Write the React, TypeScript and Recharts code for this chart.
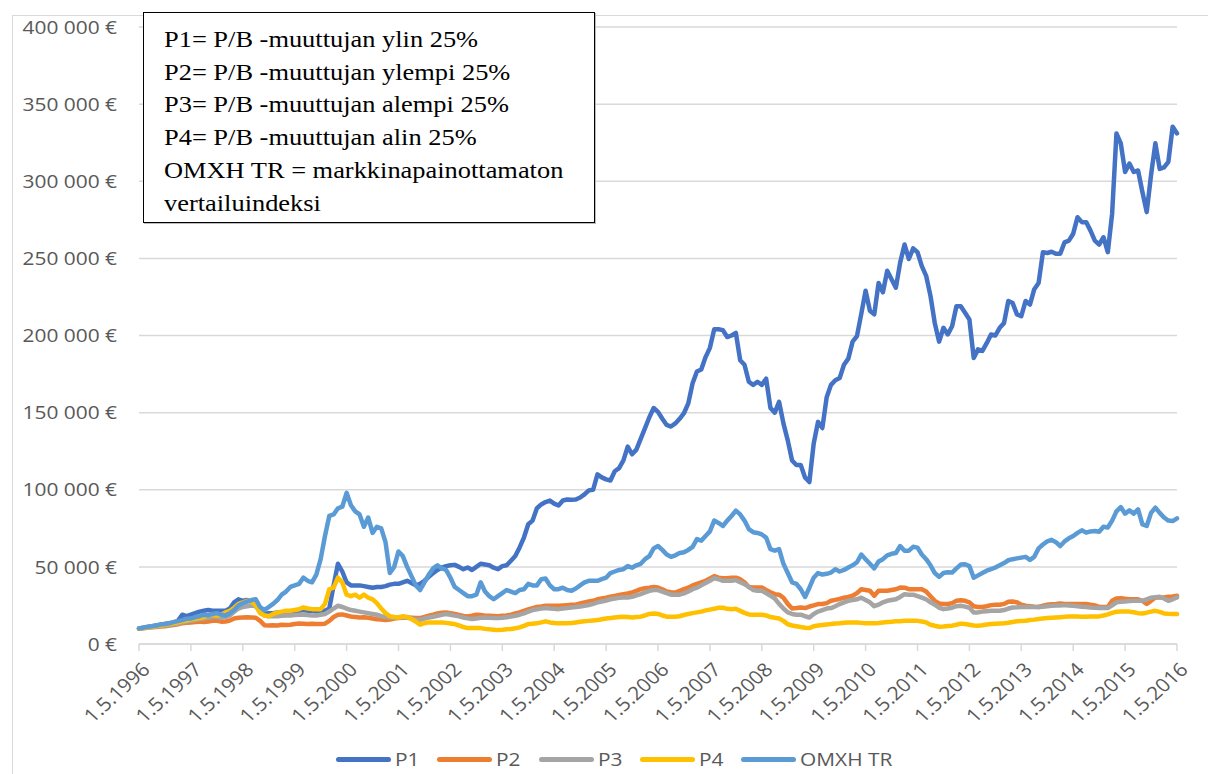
import React from 'react';
import { LineChart, Line, XAxis, YAxis, CartesianGrid } from 'recharts';

// monthly values, thousands of euros, from 1.5.1996 to 1.5.2016
const startYear = 1996;
const startMonth = 5;

const p1 = [
  10, 10.5, 11, 11.5, 12, 12.5, 13, 13.5, 14, 15, 19, 18,
  19, 20, 21, 21.5, 22, 21.5, 21.5, 21.5, 21.5, 23, 27, 29,
  28, 28.5, 27.5, 25, 20.5, 19.5, 20, 20, 20.5, 20.5, 21, 21,
  21, 21.5, 22, 21.5, 21.5, 21, 21.5, 21.5, 23, 38, 52, 47,
  40, 38, 38, 38, 37.5, 37, 36.5, 37, 37, 37.5, 38.5, 39,
  39, 40, 41, 39.5, 38, 39, 41, 43.5, 46, 48, 49.5, 50.5,
  51, 51.3, 50, 48.5, 49.6, 48, 50, 52, 51.5, 51, 49.5, 48.5,
  50.5, 51, 54, 57, 62.6, 69, 77.6, 80, 88, 90.5, 92, 93,
  91, 89.8, 93, 93.7, 93.5, 93.7, 95, 97, 99.6, 100, 110, 108,
  106.7, 106, 112, 114, 119, 128, 123, 126, 133, 140, 147, 153,
  150.5, 146, 142, 141, 143, 146, 149.6, 156, 169, 176.7, 178, 186,
  192, 204, 204, 203.5, 199, 200, 201.7, 184, 181, 170, 168, 170,
  168, 172, 153, 150, 157, 143, 132, 119, 116, 116, 108, 105,
  130, 144, 140, 160, 168, 171, 172.4, 181, 185, 196, 199.6, 214,
  229, 216, 213.7, 234, 228, 242, 236.5, 231, 247.4, 259, 249.6, 256.5,
  254, 245, 238.7, 225.7, 208, 196, 205, 200.7, 206, 219, 219, 214.8,
  210.4, 185.4, 191, 190, 195, 200.7, 200, 205, 208, 222.4, 221, 213.7,
  212.6, 222.4, 220, 230, 234, 254, 253.5, 254.3, 253, 253, 260.4, 261.5,
  266, 276.7, 273.5, 273.5, 268, 261.5, 259, 263.7, 254, 279, 331, 324.6,
  306, 311.5, 306, 307, 293, 280, 304, 324.6, 308, 309, 312.6, 335.4,
  331,
];

const p2 = [
  10, 10.2, 10.5, 10.8, 11, 11.3, 11.5, 12, 12.3, 12.8, 13.5, 13.8,
  14, 14.3, 14.5, 14.2, 14.5, 15, 15, 14.5, 14.6, 15.2, 16.5, 17,
  17.2, 17.3, 17.2, 17, 15, 12.2, 12, 12.2, 12, 12.5, 12.3, 12.5,
  13, 13.3, 13.2, 13, 13.2, 13, 13, 13.2, 15, 17.5, 19, 19.2,
  18.5, 17.8, 17.5, 17.2, 17.3, 17, 16.5, 16, 15.8, 15.5, 15.8, 16.5,
  16.8, 17, 17.2, 17, 16.8, 16.8, 17.5, 18.3, 19, 19.8, 20.3, 20.5,
  20, 19.4, 18.8, 18.2, 17.9, 18.3, 19, 18.8, 18.3, 18.3, 18.2, 18,
  18.3, 18.5, 19, 19.8, 20.5, 21.5, 22.5, 23.3, 24, 24.3, 24.8, 24.8,
  24.8, 24.8, 25, 25.2, 25.4, 25.5, 26.3, 27, 27.6, 28, 29, 29.5,
  30, 30.6, 31.2, 31.8, 32.3, 32.8, 33.4, 34.5, 35.5, 36.2, 36.5, 37,
  36.6, 35.5, 34, 33.5, 33.4, 34.5, 35.5, 36.5, 38, 39, 40, 41,
  42.5, 44, 43, 42.7, 42.7, 43, 43, 42, 40, 37, 36.6, 36.6,
  36.6, 35, 33.5, 32.3, 32, 30, 26, 23, 23.3, 23.7, 23.3, 24.3,
  25, 25.9, 25.9, 26.5, 28, 28.6, 29.2, 30, 30.5, 31.3, 33, 35.5,
  35, 34.5, 31.3, 34.5, 34.5, 34.5, 35, 35.5, 36.6, 36.5, 35.5, 35.5,
  35.5, 35.5, 34, 31, 28, 26.3, 26, 25.9, 26.5, 28, 28.4, 28,
  27, 24.5, 24, 24, 24.5, 25.2, 25.4, 25.4, 26, 27.4, 27.6, 27,
  25.5, 24.8, 24.5, 24.2, 24, 24.8, 25.4, 25.8, 26, 26.3, 26, 25.9,
  25.9, 25.9, 25.9, 25.9, 25.5, 25, 24, 24, 24, 28, 29.5, 29.7,
  29.3, 29, 29, 29, 28, 26, 28, 30.2, 30.2, 30.2, 30.6, 30.8,
  31.3,
];

const p3 = [
  10, 10.3, 10.7, 11, 11.3, 11.6, 12, 12.3, 12.8, 13.3, 14, 14.5,
  15, 15.5, 16, 16.5, 17, 17.5, 17.5, 17, 17.5, 18.5, 21, 23,
  24, 24.5, 25, 24.5, 21, 18.5, 18, 18.2, 18, 18.3, 18.5, 18.5,
  18.8, 19, 19, 18.8, 18.5, 18.5, 19, 19.5, 21, 23, 24.8, 24,
  23, 22, 21.5, 21, 20.5, 20, 19.5, 19, 18, 17.5, 17.2, 17,
  17.2, 17.2, 17.2, 16.5, 16, 15.7, 16.5, 17.2, 17.7, 18.3, 19, 19.4,
  19, 18.4, 17.9, 17.2, 16.6, 16.2, 16.5, 17, 17.2, 17, 16.9, 16.8,
  17, 17.4, 17.8, 18.3, 19, 19.8, 21, 22, 22.5, 23, 23.3, 23,
  22.8, 22.6, 23, 23.3, 23.7, 24, 24.3, 24.8, 25.3, 26, 27, 27.6,
  28.2, 29, 29.5, 30, 30.2, 30.2, 30.6, 31.5, 32.3, 33.4, 34.5, 35,
  35, 34, 33, 32, 32, 32, 32.8, 34, 35.5, 36.5, 38, 39.5,
  41, 42.7, 42, 41, 41, 41, 41.4, 40, 38.8, 37, 35, 34.5,
  34.5, 33, 31.3, 29.5, 26, 23, 20.5, 19.5, 19, 19, 18, 17.2,
  19.5, 21, 22, 23, 23.3, 24.5, 25.9, 27, 28, 28.5, 29, 30,
  28.5, 27, 24.5, 25.5, 27, 28, 28.5, 29, 30.5, 32.3, 32, 32,
  31, 30, 29, 27, 25.5, 23.5, 22.6, 23, 23.5, 24.5, 24.8, 24.2,
  23.5, 20.5, 20.5, 21, 21.3, 21.5, 21.5, 21.5, 22, 23, 23.7, 23.8,
  24, 24, 24, 24, 24, 24.2, 24.5, 24.8, 25, 25, 25.2, 25,
  24.8, 24.5, 24.2, 24, 23.7, 23.5, 23.4, 23.3, 23.3, 25, 27, 27.4,
  27.6, 27.8, 28, 28, 28, 29, 30, 30.3, 30.6, 29.5, 28, 29,
  30.2,
];

const p4 = [
  10, 10.4, 10.8, 11.2, 11.6, 12, 12.5, 13, 13.5, 14, 14.8, 15.3,
  15.8, 16.3, 16.8, 17.5, 18.5, 19, 18.5, 19, 20.5, 21.5, 23.5, 26,
  27, 28, 27.5, 25, 20, 18.5, 18, 19.5, 20.5, 21, 21.5, 21.5,
  22, 22.5, 23.7, 23, 22.6, 22.5, 22.6, 26, 35.5, 36.6, 43, 40,
  32, 31, 32, 30, 32, 30, 29, 26.5, 23, 20, 18, 17.5,
  17.2, 18, 17.5, 16.2, 14.5, 12.5, 13.5, 14, 14, 14, 14, 13.7,
  13.3, 12.9, 12, 11, 10.3, 10.3, 10.3, 10.3, 9.8, 9.5, 9.3, 9,
  9.2, 9.5, 9.7, 10.2, 10.8, 11.8, 12.9, 13.2, 13.4, 14, 14.7, 14,
  13.6, 13.4, 13.4, 13.4, 13.6, 14, 14.4, 14.7, 15, 15.3, 15.5, 16,
  16.5, 16.8, 17.2, 17.5, 17.7, 17.5, 17.2, 17.5, 17.7, 18.5, 19.5, 19.8,
  19.5, 18.5, 17.7, 17.7, 17.7, 18, 18.8, 19.5, 20, 20.5, 21, 21.8,
  22.3, 22.8, 23.5, 23.5, 22.8, 22.6, 22.8, 21.5, 20.2, 19.2, 19, 19,
  19, 18.5, 17.5, 17, 16.5, 15, 12.8, 12, 11.5, 11, 10.6, 10.3,
  11.5, 12, 12.3, 12.6, 12.9, 13.3, 13.5, 13.8, 14, 14, 14, 13.7,
  13.4, 13.4, 13.4, 13.6, 13.9, 14.2, 14.4, 14.7, 14.8, 15, 15, 15,
  15, 14.6, 14, 12.5, 11.8, 11.2, 11.3, 11.6, 11.9, 12.5, 13.2, 13,
  12.5, 12, 11.9, 12.2, 12.6, 12.9, 13.1, 13.3, 13.5, 13.8, 14.3, 14.7,
  14.9, 15.1, 15.5, 15.8, 16.2, 16.6, 16.8, 17, 17.2, 17.4, 17.6, 17.9,
  17.9, 17.8, 17.7, 17.7, 17.8, 17.9, 17.9, 18.5, 19.2, 20.2, 20.9, 21,
  21, 21, 20.6, 20, 19.8, 20.3, 21, 21.5, 20.8, 19.8, 19.6, 19.5,
  19.4,
];

const omxh = [
  10, 10.6, 11.2, 11.5, 12, 12.6, 13, 13.4, 14.2, 14.8, 15.5, 16.4,
  16.5, 17.5, 18, 19, 18.5, 19.5, 20, 19, 18.5, 20, 22, 25,
  26.5, 27.5, 28.5, 29, 24, 22, 24, 26, 28.5, 32, 34, 37,
  38, 39, 43, 41, 40, 45, 55, 70, 83, 84, 88, 89,
  98, 90, 86, 84, 76, 82, 72, 76, 75, 66, 46, 50,
  60, 57, 50, 44, 38, 35, 40, 45, 49, 51, 49, 48,
  43, 37, 35, 33, 31, 31, 32, 40, 34, 31, 29, 31,
  33, 35, 34, 33, 35, 35.5, 39, 38, 38, 42, 42.5, 38,
  35.5, 35.5, 36.5, 35, 34.5, 36, 38, 40, 41, 41, 41, 42,
  43, 46, 47, 48, 48.5, 50.5, 49.5, 51, 52, 55, 57, 62,
  63.5, 61, 58, 56.5, 57.5, 59, 59.5, 61, 63, 68, 67, 70,
  73, 80, 78.5, 76.5, 80, 83, 86.5, 84, 80, 74.5, 72.5, 72,
  71, 69, 61.5, 60.5, 61.5, 52, 46, 40, 39, 35.5, 30.5, 36.5,
  43, 46, 45, 45.5, 46.3, 48.5, 47, 48, 49.6, 51, 53, 58,
  55, 52, 49, 53.5, 55, 57.5, 58.5, 59, 63.5, 60.5, 60.5, 63,
  62.5, 58, 55, 51, 46, 43.5, 46, 46.5, 46.3, 49, 51.5, 51.7,
  50.5, 43, 44.5, 46, 47.5, 48.5, 49.6, 51, 52.5, 54.3, 55, 55.5,
  56, 56.5, 54.5, 56.5, 62, 64.5, 66.5, 67.5, 66, 63.5, 66.5, 68.5,
  70, 72, 73.7, 72.2, 73, 73.3, 72.8, 76, 75.5, 80, 86, 88.8,
  84.5, 86.6, 84.5, 87.3, 77.5, 76.5, 85, 88.4, 85, 82, 80, 79.7,
  81.5,
];

const yTicks = [0, 50, 100, 150, 200, 250, 300, 350, 400];

const seriesInfo = [
  { key: 'p1', name: 'P1', color: '#4472C4' },
  { key: 'p2', name: 'P2', color: '#ED7D31' },
  { key: 'p3', name: 'P3', color: '#A5A5A5' },
  { key: 'p4', name: 'P4', color: '#FFC000' },
  { key: 'omxh', name: 'OMXH TR', color: '#5B9BD5' },
];

const noteLines = [
  'P1= P/B -muuttujan ylin 25%',
  'P2= P/B -muuttujan ylempi 25%',
  'P3= P/B -muuttujan alempi 25%',
  'P4= P/B -muuttujan alin 25%',
  'OMXH TR = markkinapainottamaton',
  'vertailuindeksi',
];

const monthLabel = (i: number) => {
  const m = startMonth - 1 + i;
  return `1.${(m % 12) + 1}.${startYear + Math.floor(m / 12)}`;
};

const data = p1.map((v, i) => ({
  date: monthLabel(i),
  p1: v,
  p2: p2[i],
  p3: p3[i],
  p4: p4[i],
  omxh: omxh[i],
}));

const FONT = '"Open Sans", "Noto Sans", sans-serif';
const TICK_COLOR = '#595959';

const YTick = ({ x, y, payload }: any) => (
  <text
    transform={`translate(${x},${y}) scale(1.1,1)`}
    dy="0.35em"
    textAnchor="end"
    fill={TICK_COLOR}
    fontSize={19}
    fontFamily={FONT}
  >
    {payload.value === 0 ? '0 €' : `${payload.value}\u00a0000 €`}
  </text>
);

const XTick = ({ x, y, payload }: any) => (
  <text
    transform={`translate(${x + 7},${y + 15}) scale(1.1,1) rotate(-45)`}
    dy="0.35em"
    textAnchor="end"
    fill={TICK_COLOR}
    fontSize={19}
    fontFamily={FONT}
  >
    {payload.value}
  </text>
);

export default function App() {
  return (
    <div style={{ position: 'absolute', left: 0, top: 0, width: 1208, height: 774, background: '#fff', overflow: 'hidden' }}>
      <div style={{ position: 'absolute', left: 12, top: 15, width: 1200, height: 780, border: '1px solid #d9d9d9' }} />
      <div style={{ position: 'absolute', left: 0, top: 0 }}>
        <LineChart width={1208} height={774} data={data} margin={{ top: 27, right: 31, left: 0, bottom: 35 }}>
          <CartesianGrid vertical={false} stroke="#d9d9d9" strokeWidth={1.5} />
          <XAxis
            dataKey="date"
            interval={11}
            height={95}
            axisLine={{ stroke: '#d9d9d9', strokeWidth: 1.5 }}
            tickLine={{ stroke: '#d9d9d9', strokeWidth: 1.5 }}
            tickSize={7}
            tickMargin={0}
            tick={<XTick />}
          />
          <YAxis
            width={139}
            domain={[0, 400]}
            ticks={yTicks}
            axisLine={false}
            tickLine={false}
            tickSize={6}
            tickMargin={16}
            tick={<YTick />}
          />
          {seriesInfo.map((s) => (
            <Line
              key={s.key}
              dataKey={s.key}
              name={s.name}
              type="linear"
              stroke={s.color}
              strokeWidth={4.5}
              strokeLinejoin="round"
              strokeLinecap="round"
              dot={false}
              isAnimationActive={false}
            />
          ))}
        </LineChart>
      </div>
      <div
        style={{
          position: 'absolute',
          left: 143,
          top: 12,
          width: 452,
          height: 211,
          border: '1px solid #000',
          background: '#fff',
          boxShadow: '1px 1px 0 #bbb',
          fontFamily: '"Liberation Serif", "Times New Roman", serif',
          fontSize: 24,
          lineHeight: '32.7px',
          color: '#000',
          padding: '10px 0 0 20px',
          boxSizing: 'border-box',
          whiteSpace: 'nowrap',
        }}
      >
        {noteLines.map((t) => (
          <div key={t} style={{ transform: 'scaleX(1.1)', transformOrigin: 'left' }}>{t}</div>
        ))}
      </div>
      <div style={{ position: 'absolute', left: 336, top: 746, display: 'flex', alignItems: 'center', gap: 20, fontFamily: FONT, fontSize: 19, color: TICK_COLOR }}>
        {seriesInfo.map((s) => (
          <div key={s.key} style={{ display: 'flex', alignItems: 'center', gap: 4 }}>
            <div style={{ width: 55, height: 5, borderRadius: 3, background: s.color }} />
            <span style={{ display: 'inline-block', transform: 'scaleX(1.1)', transformOrigin: 'left' }}>{s.name}</span>
          </div>
        ))}
      </div>
    </div>
  );
}
